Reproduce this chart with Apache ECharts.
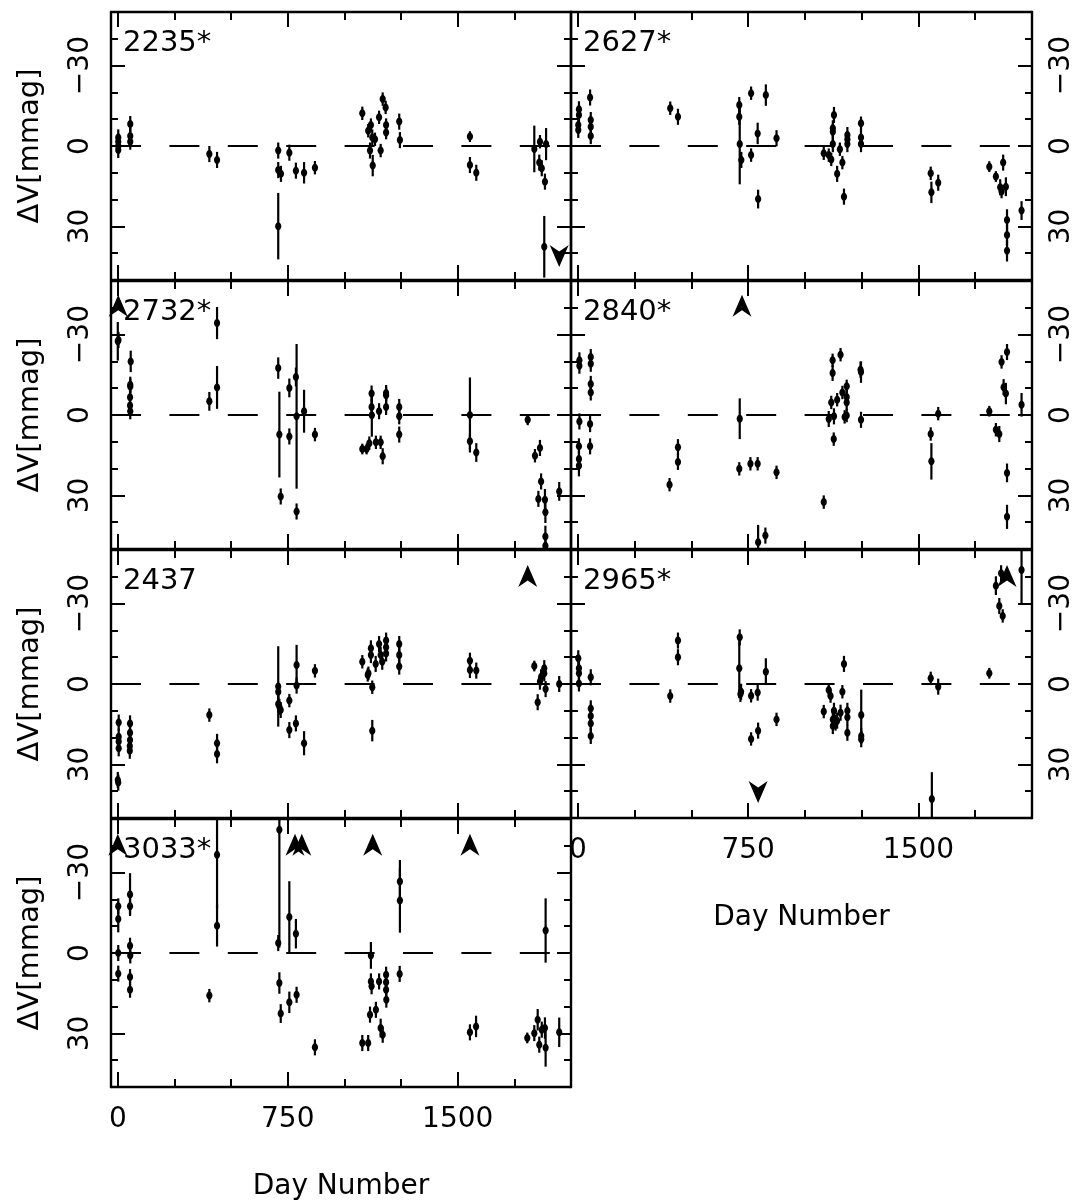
<!DOCTYPE html>
<html>
<head>
<meta charset="utf-8">
<script src="https://cdn.jsdelivr.net/npm/echarts@6/dist/echarts.min.js"></script>
<style>
html, body { margin: 0; padding: 0; background: #fff; }
#chart { width: 1079px; height: 1201px; }
</style>
</head>
<body>
<div id="chart"></div>
<script>
// Axis ticks and limits
const dayTicks = [0, 750, 1500];
const dayMinorTicks = [250, 500, 1000, 1250, 1750];
const dvTicks = [-30, 0, 30];
const dvMinorTicks = [-40, -20, -10, 10, 20, 40];
const DAY_MIN = -30, DAY_MAX = 2000;
const DV_MIN = -50, DV_MAX = 50;

// Observations per star: [day, ΔV (mmag), error (mmag)]
const s2235 = [
  [2,-3.2,3],[2,-1.6,3],[2,0,3],[2,1.5,3],
  [55,-8.2,3],[55,-3.7,3],[55,-1.6,3],
  [404,3,3],[438,5.2,3],
  [708,1.7,3],[708,9,3],[708,29.9,12.4],[720,10.4,3],[757,2.5,3],[786,9.2,3],[822,10,4],[870,8.1,2.5],
  [1079,-12.2,2.5],[1105,-5.7,2.5],[1117,-7.8,2.5],[1123,-3.2,3],[1113,1.7,3],[1125,7.3,4],[1135,-2.5,2.5],
  [1153,-10.7,2.5],[1160,1.7,2.5],[1169,-17.5,2.5],[1182,-14.4,2.5],[1184,-7.8,2.5],[1184,-5,2.5],
  [1242,-9.1,3],[1245,-2.2,3],
  [1554,-3.5,2],[1554,7.1,3],[1582,10,3],
  [1838,1.1,8.7],[1863,-1.6,2.5],[1860,6.2,3],[1871,8.3,3],[1885,13.3,3],[1890,-0.7,6],[1882,37.6,11.5]
];
const s2627 = [
  [5,-13.7,3],[5,-11.6,3],[2,-7.8,3],[2,-6,3],
  [54,-18.1,3],[57,-9.7,3],[57,-7.2,3],[57,-3.7,3],
  [407,-14.1,2.5],[441,-10.9,3],
  [711,-15.3,3],[711,-10.9,3],[713,-0.7,15],[720,5.2,3],
  [763,-19.7,2.5],[763,3.4,2.5],[792,-4.7,4],[794,19.8,3.5],[828,-19,4],[875,-2.9,3],
  [1083,2.7,2.5],[1105,3.4,2.5],[1116,5,2.5],[1123,-5.3,3],[1123,-6.6,3],[1128,-11.6,3],[1123,-0.7,3],
  [1142,10.4,3],[1154,1.2,2.5],[1165,6.2,2.5],[1172,18.9,3],[1187,-4.1,3],[1187,-2.5,3],[1187,-0.7,3],
  [1247,-8.5,2.5],[1247,-3.2,3],[1247,-0.7,3],
  [1554,10.2,2.5],[1557,17.3,4],[1587,13.7,3],
  [1812,7.7,2],[1841,11.4,2],[1860,15.4,3],[1866,17,2.5],[1873,6.2,3],[1885,15.2,3.5],
  [1890,27.6,4],[1890,33.2,4],[1890,39.1,4],[1954,24.1,3.5]
];
const s2732 = [
  [0,-27.5,7.2],[3,-28,3],
  [57,-20,4],[55,-11.3,3],[55,-10.6,3],[54,-6.6,3],[54,-3.5,3],[55,-1.4,3],
  [404,-5.1,3.5],[438,-34.3,6],[438,-10.3,8],
  [708,-17.5,4],[713,7.3,16],[719,30.4,3],[757,-10.1,3.5],[757,8,3],[786,-14.2,3.5],[789,0.5,27],[789,36,3],
  [822,-1.4,8],[870,7.3,2.5],
  [1079,12.7,2],[1098,12.7,2],[1110,10.5,2.5],[1120,-8,3],[1120,-3,3],[1121,0.1,8],[1139,10.2,2.5],
  [1153,-1.4,3],[1160,10.2,2.5],[1169,15.4,3],[1184,-8.2,3],[1184,-7.4,3],[1184,-3,3],
  [1242,-3,3],[1242,0.5,3],[1242,7.3,3],
  [1554,0,14],[1554,9.8,3],[1582,14,3.5],
  [1809,1.8,2],[1841,15.2,2.5],[1863,12.3,3],[1868,24.8,3],[1856,31.3,3],
  [1885,31.6,4],[1887,36.3,4],[1887,45.3,4],[1887,48.8,4],[1948,28.5,3.5]
];
const s2840 = [
  [7,-20.4,3],[7,-18.4,3],[57,-21.6,3],[57,-19.1,3],[57,-11.6,3],[57,-8.4,3],
  [7,2.4,3],[54,3.4,3],[54,11.7,3],[5,11.7,3],[5,16.4,3],[5,18.9,4],
  [404,26,2.5],[441,12,3],[441,17.5,3],
  [713,1.4,7.6],[711,20.1,2.5],[760,18.2,2.5],[792,18.2,2.5],[794,47.5,6.5],[826,45,3],[875,21.4,2.5],
  [1083,32.5,2.5],[1105,1.5,3],[1116,-4.7,2.5],[1122,-20.4,2.5],[1122,-15.7,3],[1128,0.5,3],[1127,9,2.5],
  [1142,-5.7,2.5],[1157,-22.5,2.5],[1165,-8.4,2.5],[1184,-10.7,2.5],[1184,-6.7,3],[1184,-4.7,3],
  [1175,0.7,2.5],[1184,0.2,2.5],[1245,-16.9,3],[1247,-16,4],[1247,1.8,3],
  [1554,7.1,2.5],[1557,17.3,6.8],[1587,-0.5,2.5],
  [1812,-1.4,2],[1841,5.5,2.5],[1856,7.1,3],[1866,-19.8,2.5],[1875,-10.4,3],[1885,-8,4],
  [1890,-23.5,3],[1890,21.6,3.5],[1890,38,4.5],[1954,-3.8,4.4]
];
const s2437 = [
  [0,35.8,3],[2,36.8,3],[4,14.4,3],[4,19.7,3],[4,21.5,3],[4,24,3],
  [54,14.7,3],[54,18.2,3],[54,20.9,3],[53,23.1,3],[53,24.9,3],
  [404,11.6,2.5],[438,22.1,3.5],[438,26.1,3.5],
  [708,0.9,15],[708,2.9,3],[708,7.5,3],[713,8.5,3],[719,9.7,3],[757,6.2,2.5],[757,17.2,3],[786,14.7,3],
  [789,-7.1,7.5],[789,0.6,3],[822,22.1,4.5],[870,-4.9,2.5],
  [1079,-8.3,2.5],[1103,-3.4,2.5],[1106,-4,2.5],[1117,-13.3,3],[1117,-10.8,3],[1123,1.2,2.5],[1123,17.4,4],
  [1138,-7.5,3],[1153,-14.9,3],[1160,-10.8,3],[1167,-8.3,3],[1184,-16.2,3],[1184,-13.7,3],[1184,-11.4,3],
  [1242,-14.9,3],[1242,-10.8,3],[1242,-6.5,3],
  [1554,-8.7,3],[1554,-5.2,3],[1582,-5,3],
  [1838,-6.7,2],[1853,6.8,3],[1863,-0.9,3],[1868,-2.5,3],[1882,-5.9,3],[1882,-4,3],[1888,1.9,3],[1948,0,3]
];
const s2965 = [
  [2,-9.6,3],[5,-5.9,3],[5,-4,3],[5,-0.2,3],
  [57,-2.5,3],[57,9.1,3],[57,11.9,3],[57,14.7,3],[57,19.4,3],
  [407,4.5,2.5],[441,-16.2,3],[441,-10,3],
  [713,-17.4,3],[711,-5.9,11.2],[719,2.9,3],[716,3.7,3],[763,4.4,2.5],[763,20.5,2.5],[792,3.2,3],[794,17.4,3],
  [828,-4.6,5],[875,13.2,2.5],
  [1083,10.3,2.5],[1105,2.2,2.5],[1113,4.5,2.5],[1123,15.7,3],[1123,13.2,3],[1128,10,3],[1135,14.4,3],
  [1142,13.7,3],[1157,10.7,3],[1165,2.9,2.5],[1172,-7.5,3],[1187,10,3],[1187,12.4,3],[1187,18.2,3],
  [1248,11.6,9.5],[1248,19.4,3],[1248,20.6,3],
  [1554,-2.1,2.5],[1559,42.9,10],[1587,1,3],
  [1812,-4,2],[1841,-36.7,3.5],[1856,-29.1,3],[1871,-25.4,2.5],[1864,-41.3,3],[1954,-42.5,12.5]
];
const s3033 = [
  [2,-17.4,3],[2,-12.7,5],[2,0,3],[2,7.7,3],
  [54,-21.8,8],[54,-17.4,3],[54,-2.7,3],[55,0.9,3],[54,9,3],[54,13.7,3],
  [404,15.9,2.5],[438,-36.7,20],[438,-10.2,7.8],
  [713,-46,44],[708,-3.7,3],[713,11.2,4],[719,22.6,3.5],[757,-13.4,13.4],[757,18.4,4],[786,-7.2,5.5],[789,15.6,3],
  [870,35.2,3],[1079,33.6,3],[1105,33.6,3],[1117,0.9,5],[1113,23,3],[1117,10.6,3],[1120,12.4,3],[1139,21.2,3],
  [1153,10.6,3],[1160,28,3.5],[1169,30.5,3],[1184,8.1,3],[1184,10.9,3],[1184,13.7,3],[1185,17.4,3],
  [1245,-26.7,8],[1245,-19.6,12],[1244,7.8,3],
  [1554,29.6,3],[1581,27.4,4],
  [1807,31.7,2],[1838,29.9,3],[1853,24.9,4],[1860,34.2,3],[1871,28.6,3],[1885,28,4],[1888,35.4,7],
  [1888,-8.4,12],[1948,29.6,5.5]
];

// Off-scale markers: [day, ΔV position of arrow]
const up2732 = [[2, -40.8]];
const up2840 = [[723, -40.8]];
const up2437 = [[1809, -40.3]];
const up2965 = [[1890, -40.3]];
const down2965 = [[794, 40.3]];
const down2235 = [[1948, 41]];
const up3033 = [[0, -40.4], [782, -40.4], [812, -40.4], [1125, -40.4], [1554, -40.4]];

const stars = [
  { label: '2235*', col: 0, row: 0, obs: s2235, up: [], down: down2235 },
  { label: '2627*', col: 1, row: 0, obs: s2627, up: [], down: [] },
  { label: '2732*', col: 0, row: 1, obs: s2732, up: up2732, down: [] },
  { label: '2840*', col: 1, row: 1, obs: s2840, up: up2840, down: [] },
  { label: '2437',  col: 0, row: 2, obs: s2437, up: up2437, down: [] },
  { label: '2965*', col: 1, row: 2, obs: s2965, up: up2965, down: down2965, dayLabels: true },
  { label: '3033*', col: 0, row: 3, obs: s3033, up: up3033, down: [], dayLabels: true }
];

// Panel layout (px)
const COL_LEFT = [111, 571];
const COL_WIDTH = [460, 461];
const ROW_TOP = 12, ROW_STEP = 269, ROW_HEIGHT = 268;
const FONT = 'DejaVu Sans';
const INK = '#000';
const ARROW = 'path://M0,0 L10,22 L0,15.5 L-10,22 Z';

const fmtDv = v => (v < 0 ? '\u2212' + Math.abs(v) : String(v));
const fmtDay = v => String(v);

const grid = [], xAxis = [], yAxis = [], series = [], graphic = [];

stars.forEach((s, i) => {
  const left = COL_LEFT[s.col];
  const top = ROW_TOP + s.row * ROW_STEP;
  grid.push({
    left: left, top: top, width: COL_WIDTH[s.col], height: ROW_HEIGHT,
    show: false, containLabel: false, outerBoundsMode: 'none'
  });

  const xAx = (position, ticks, len, withLine, withLabels) => ({
    gridIndex: i, type: 'value', position: position, min: DAY_MIN, max: DAY_MAX,
    axisLine: { show: withLine, onZero: false, lineStyle: { color: INK, width: 2.4 } },
    splitLine: { show: false },
    axisTick: { show: true, inside: true, length: len, customValues: ticks, lineStyle: { color: INK, width: 2 } },
    axisLabel: withLabels
      ? { show: true, customValues: ticks, margin: 19, formatter: fmtDay,
          color: INK, fontFamily: FONT, fontSize: 28 }
      : { show: false },
    name: withLabels ? 'Day Number' : '',
    nameLocation: 'middle', nameGap: 86,
    nameTextStyle: { color: INK, fontFamily: FONT, fontSize: 28 }
  });
  const xi = xAxis.length;
  xAxis.push(xAx('bottom', dayTicks, 15, true, !!s.dayLabels));
  xAxis.push(xAx('bottom', dayMinorTicks, 8, false, false));
  xAxis.push(xAx('top', dayTicks, 15, true, false));
  xAxis.push(xAx('top', dayMinorTicks, 8, false, false));

  const yAx = (position, ticks, len, withLine, withLabels, withName) => ({
    gridIndex: i, type: 'value', position: position, min: DV_MIN, max: DV_MAX, inverse: true,
    axisLine: { show: withLine, onZero: false, lineStyle: { color: INK, width: 2.4 } },
    splitLine: { show: false },
    axisTick: { show: true, inside: true, length: len, customValues: ticks, lineStyle: { color: INK, width: 2 } },
    axisLabel: withLabels
      ? { show: true, customValues: ticks, rotate: 90, margin: 16, formatter: fmtDv,
          color: INK, fontFamily: FONT, fontSize: 28 }
      : { show: false },
    name: withName ? '\u0394V[mmag]' : '',
    nameLocation: 'middle', nameGap: 66, nameRotate: 90,
    nameTextStyle: { color: INK, fontFamily: FONT, fontSize: 29 }
  });
  const yi = yAxis.length;
  const labelLeft = s.col === 0;
  yAxis.push(yAx('left', dvTicks, 14, true, labelLeft, labelLeft));
  yAxis.push(yAx('left', dvMinorTicks, 7, false, false, false));
  yAxis.push(yAx('right', dvTicks, 14, true, !labelLeft, false));
  yAxis.push(yAx('right', dvMinorTicks, 7, false, false, false));

  // dashed zero reference
  series.push({
    type: 'line', xAxisIndex: xi, yAxisIndex: yi, silent: true, symbol: 'none', animation: false,
    data: [[DAY_MIN, 0], [DAY_MAX, 0]],
    lineStyle: { color: INK, width: 2, type: [30, 28.4] }
  });

  // measurements with error bars
  series.push({
    type: 'custom', xAxisIndex: xi, yAxisIndex: yi, clip: true, animation: false, silent: true,
    data: s.obs,
    encode: { x: 0, y: 1 },
    renderItem: (params, api) => {
      const d = api.value(0), v = api.value(1), e = api.value(2);
      const p = api.coord([d, v]);
      const a = api.coord([d, v - e]);
      const b = api.coord([d, v + e]);
      return {
        type: 'group',
        children: [
          { type: 'line', shape: { x1: p[0], y1: a[1], x2: p[0], y2: b[1] },
            style: { stroke: INK, lineWidth: 2.2 } },
          { type: 'ellipse', shape: { cx: p[0], cy: p[1], rx: 3.1, ry: 4 },
            style: { fill: INK } }
        ]
      };
    }
  });

  // off-scale arrows
  const arrowSeries = (data, rot) => ({
    type: 'scatter', xAxisIndex: xi, yAxisIndex: yi, silent: true, animation: false,
    data: data, symbol: ARROW, symbolSize: [19, 22], symbolRotate: rot,
    itemStyle: { color: INK, opacity: 1 }
  });
  if (s.up.length) series.push(arrowSeries(s.up, 0));
  if (s.down.length) series.push(arrowSeries(s.down, 180));

  // star identifier
  graphic.push({
    type: 'text', x: left + 12, y: top + 31, silent: true,
    style: { text: s.label, fill: INK, font: '29px ' + FONT, verticalAlign: 'middle' }
  });
});

const chart = echarts.init(document.getElementById('chart'), null, { renderer: 'canvas' });
chart.setOption({
  animation: false,
  backgroundColor: '#fff',
  grid: grid, xAxis: xAxis, yAxis: yAxis, series: series, graphic: graphic
});
</script>
</body>
</html>
